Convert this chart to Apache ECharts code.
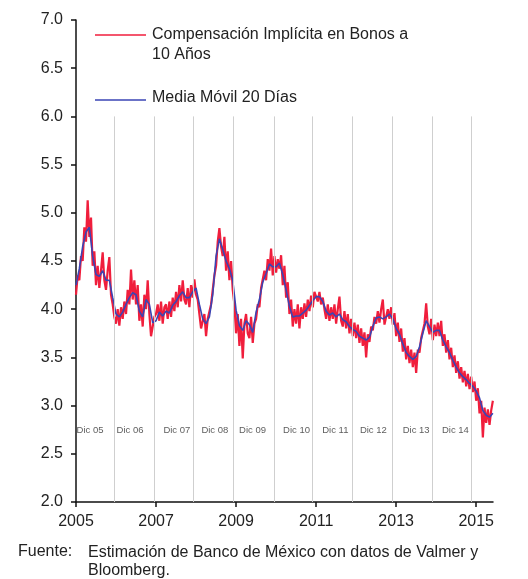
<!DOCTYPE html>
<html>
<head>
<meta charset="utf-8">
<script src="https://cdn.jsdelivr.net/npm/echarts@6/dist/echarts.min.js"></script>
<style>
  html, body { margin: 0; background: #fff; }
  #chart { width: 528px; height: 579px; }
</style>
</head>
<body>
<div id="chart"></div>
<script>
const FONT = "'Liberation Sans', Arial, sans-serif"
const RED = '#f01e3c'
const BLUE = '#3a44b4'

// half-monthly readings, Jan 2005 onward
const rawStart = 2005
const rawStep = 1 / 24
const rawValues = [
  4.15, 4.35, 4.30, 4.55, 4.50, 4.85, 4.70, 5.13, 4.75, 4.95, 4.45, 4.60,
  4.25, 4.45, 4.22, 4.40, 4.59, 4.30, 4.20, 4.40, 4.54, 4.15, 4.05, 3.92,
  3.85, 4.00, 3.83, 4.02, 3.90, 4.08, 3.95, 4.20, 4.05, 4.41, 4.10, 4.30,
  4.05, 4.25, 3.88, 4.05, 3.82, 4.15, 4.00, 4.30, 3.95, 3.72, 3.70, 3.92,
  3.95, 4.05, 3.88, 4.08, 3.85, 4.02, 4.05, 3.90, 4.08, 3.92, 4.12, 3.98,
  4.18, 4.02, 4.25, 4.08, 4.30, 4.10, 4.05, 4.22, 4.02, 4.25, 4.12, 4.31,
  4.15, 4.10, 3.95, 3.80, 3.78, 3.95, 3.72, 3.90, 3.88, 4.05, 4.05, 4.35,
  4.45, 4.70, 4.84, 4.65, 4.55, 4.75, 4.40, 4.60, 4.30, 4.50, 4.20, 4.05,
  3.75, 3.95, 3.62, 3.90, 3.49, 3.85, 3.95, 3.75, 3.70, 3.92, 3.65, 3.85,
  3.90, 4.05, 4.02, 4.22, 4.20, 4.40, 4.30, 4.52, 4.40, 4.63, 4.35, 4.55,
  4.38, 4.52, 4.42, 4.56, 4.25, 4.45, 4.12, 4.28, 3.95, 4.10, 3.82, 4.00,
  3.85, 4.05, 3.80, 4.02, 3.90, 4.06, 3.92, 4.10, 3.98, 4.14, 4.02, 4.18,
  4.20, 4.08, 4.18, 4.05, 4.12, 4.00, 3.90, 4.05, 3.88, 4.02, 3.90, 4.05,
  3.85, 4.00, 4.13, 3.88, 3.82, 3.98, 3.80, 3.95, 3.75, 3.90, 3.72, 3.86,
  3.70, 3.84, 3.65, 3.80, 3.62, 3.76, 3.50, 3.74, 3.66, 3.82, 3.78, 3.92,
  3.85, 3.98, 3.86, 4.00, 4.10, 3.84, 3.86, 4.00, 3.90, 4.02, 3.84, 3.96,
  3.72, 3.86, 3.66, 3.80, 3.56, 3.70, 3.48, 3.62, 3.44, 3.58, 3.40, 3.55,
  3.34, 3.58, 3.55, 3.70, 3.68, 3.85, 4.06, 3.82, 3.74, 3.90, 3.68, 3.84,
  3.72, 3.86, 3.72, 3.88, 3.62, 3.74, 3.55, 3.68, 3.48, 3.60, 3.40, 3.52,
  3.34, 3.46, 3.28, 3.40, 3.24, 3.36, 3.20, 3.33, 3.17, 3.30, 3.14, 3.25,
  3.05, 3.18, 2.92, 3.05, 2.67, 2.98, 2.82, 2.96, 2.80, 2.95, 3.05
]

// monthly readings of the 20-day moving average
const maStart = 2005
const maStep = 1 / 12
const maValues = [
  4.25, 4.42, 4.65, 4.80, 4.85, 4.55, 4.36, 4.34, 4.40, 4.30, 4.30, 4.12,
  3.95, 3.92, 3.97, 4.05, 4.12, 4.17, 4.15, 3.98, 3.92, 4.10, 4.05, 3.86,
  3.88, 3.97, 3.93, 3.98, 3.96, 4.04, 4.08, 4.14, 4.18, 4.12, 4.12, 4.18,
  4.22, 4.05, 3.90, 3.85, 3.92, 4.15, 4.55, 4.73, 4.62, 4.50, 4.42, 4.30,
  3.99, 3.83, 3.78, 3.88, 3.84, 3.76, 3.97, 4.10, 4.28, 4.37, 4.47, 4.44,
  4.44, 4.48, 4.36, 4.20, 4.03, 3.92, 3.93, 3.93, 3.96, 3.99, 4.04, 4.09,
  4.13, 4.13, 4.08, 3.98, 3.94, 3.96, 3.92, 3.95, 3.89, 3.87, 3.82, 3.79,
  3.77, 3.72, 3.70, 3.68, 3.71, 3.82, 3.91, 3.92, 3.90, 3.92, 3.95, 3.90,
  3.80, 3.74, 3.64, 3.55, 3.51, 3.48, 3.51, 3.61, 3.75, 3.88, 3.82, 3.76,
  3.78, 3.78, 3.68, 3.61, 3.55, 3.47, 3.40, 3.34, 3.30, 3.27, 3.23, 3.20,
  3.15, 3.08, 2.95, 2.90, 2.88, 2.92
]

const decemberLines = [2005.95, 2006.95, 2007.92, 2008.92, 2009.96, 2010.91, 2011.91, 2012.91, 2013.90, 2014.88]
const decemberLabels = ['Dic 05', 'Dic 06', 'Dic 07', 'Dic 08', 'Dic 09', 'Dic 10', 'Dic 11', 'Dic 12', 'Dic 13', 'Dic 14']
const decemberLabelX = [2005.35, 2006.35, 2007.52, 2008.47, 2009.41, 2010.51, 2011.48, 2012.43, 2013.5, 2014.48]
const decemberLabelY = 2.74
const lineTop = 6.0

const yearTicks = [2005, 2007, 2009, 2011, 2013, 2015]

const rawData = rawValues.map((v, i) => [rawStart + i * rawStep, v])
const maData = maValues.map((v, i) => [maStart + i * maStep, v])

const chart = echarts.init(document.getElementById('chart'))

chart.setOption({
  animation: false,
  backgroundColor: '#fff',
  textStyle: { fontFamily: FONT },
  grid: { left: 76, right: 35, top: 20, bottom: 77 },
  xAxis: {
    type: 'value',
    min: 2005,
    max: 2015.42,
    axisLine: { lineStyle: { color: '#111', width: 1.5 } },
    axisTick: { customValues: yearTicks, length: 5, lineStyle: { color: '#111', width: 1.5 } },
    axisLabel: {
      customValues: yearTicks,
      formatter: (v) => String(Math.round(v)),
      color: '#222',
      fontSize: 16,
      fontFamily: FONT,
      margin: 12
    },
    splitLine: { show: false }
  },
  yAxis: {
    type: 'value',
    min: 2,
    max: 7,
    interval: 0.5,
    axisLine: { show: true, lineStyle: { color: '#111', width: 1.5 } },
    axisTick: { show: true, length: 5, lineStyle: { color: '#111', width: 1.5 } },
    axisLabel: {
      formatter: (v) => v.toFixed(1),
      color: '#222',
      fontSize: 16,
      fontFamily: FONT,
      margin: 13
    },
    splitLine: { show: false }
  },
  series: [
    {
      name: 'Dic',
      type: 'scatter',
      z: 1,
      silent: true,
      symbolSize: 0,
      data: decemberLabelX.map((x, i) => ({ value: [x, decemberLabelY], name: decemberLabels[i] })),
      label: {
        show: true,
        position: 'inside',
        formatter: (p) => p.name,
        fontSize: 9.5,
        color: '#333',
        fontFamily: FONT
      },
      markLine: {
        silent: true,
        symbol: 'none',
        label: { show: false },
        lineStyle: { color: '#cfcfcf', width: 1, type: 'solid' },
        data: decemberLines.map((x) => [{ coord: [x, 2] }, { coord: [x, lineTop] }])
      }
    },
    {
      name: 'Compensación Implícita en Bonos a 10 Años',
      type: 'line',
      z: 3,
      data: rawData,
      showSymbol: false,
      lineStyle: { color: RED, width: 2.2 },
      itemStyle: { color: RED }
    },
    {
      name: 'Media Móvil 20 Días',
      type: 'line',
      z: 4,
      data: maData,
      showSymbol: false,
      lineStyle: { color: BLUE, width: 1.6 },
      itemStyle: { color: BLUE }
    }
  ],
  graphic: [
    { type: 'line', shape: { x1: 95, y1: 35, x2: 146, y2: 35 }, style: { stroke: RED, lineWidth: 1.5 } },
    { type: 'text', left: 152, top: 25, style: { text: 'Compensación Implícita en Bonos a\n10 Años', font: '16px ' + FONT, fill: '#222', lineHeight: 20 } },
    { type: 'line', shape: { x1: 95, y1: 100, x2: 146, y2: 100 }, style: { stroke: BLUE, lineWidth: 1.5 } },
    { type: 'text', left: 152, top: 90, style: { text: 'Media Móvil 20 Días', font: '16px ' + FONT, fill: '#222' } },
    { type: 'text', left: 18, top: 544, style: { text: 'Fuente:', font: '16px ' + FONT, fill: '#222' } },
    { type: 'text', left: 88, top: 544, style: { text: 'Estimación de Banco de México con datos de Valmer y\nBloomberg.', font: '16px ' + FONT, fill: '#222', lineHeight: 18 } }
  ]
})
</script>
</body>
</html>
